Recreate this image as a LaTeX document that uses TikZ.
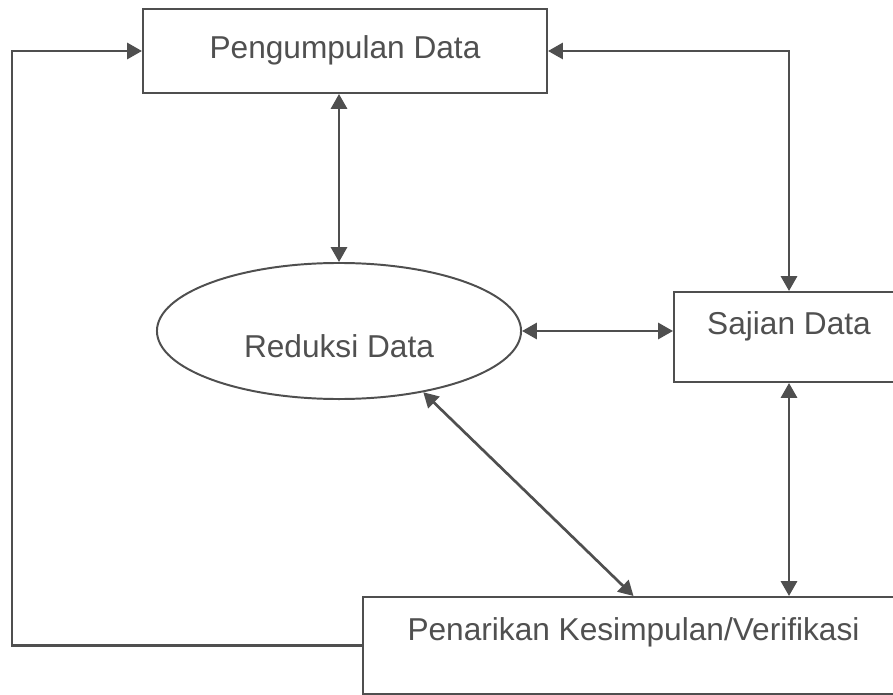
\documentclass[tikz,border=0pt]{standalone}
\usepackage{fontspec}
\setmainfont{Liberation Sans}
\usetikzlibrary{positioning, arrows.meta, shapes.geometric}
\definecolor{garis}{HTML}{4F4F4F}
\definecolor{tulisan}{HTML}{505050}

\begin{document}
\begin{tikzpicture}[x=0.025cm, y=-0.025cm,
  arr/.style={{Triangle[length=3.7mm, width=4mm]}-{Triangle[length=3.7mm, width=4mm]},
              draw=garis, line width=1.9pt},
  arrsatu/.style={-{Triangle[length=3.7mm, width=4mm]}, draw=garis, line width=1.9pt},
  kotak/.style={rectangle, draw=garis, line width=1.4pt, fill=white,
                text=tulisan, font=\fontsize{22.5}{27}\selectfont,
                inner sep=0.2cm, text height=0.58cm},
  elips/.style={ellipse, draw=garis, line width=1.4pt, fill=white,
                text=tulisan, font=\fontsize{22.5}{27}\selectfont,
                inner sep=0.1cm, minimum width=9.1cm, minimum height=3.4cm}
]
\useasboundingbox (0,0) rectangle (893,695);
\clip (0,0) rectangle (893,695);
\fill[white] (0,0) rectangle (893,695);

\node[kotak, minimum width=10.1cm, minimum height=2.1cm, text depth=0.2cm]
  (kumpul) at (345,51) {Pengumpulan Data};
\node[elips, text height=1.33cm, text depth=0pt]
  (reduksi) at (339,331) {Reduksi Data};
\node[kotak, minimum width=5.75cm, minimum height=2.25cm, text depth=0.7cm]
  (sajian) at (789,337) {Sajian Data};
\node[kotak, minimum width=13.525cm, minimum height=2.425cm, text depth=0.85cm]
  (tarik) at (633.5,645.5) {Penarikan Kesimpulan/Verifikasi};
\coordinate (kiri) at (12,0);

% panah antar komponen
\draw[arr] (kumpul.south -| reduksi.north) -- (reduksi.north);
\draw[arr] (kumpul.east) -| (sajian.north);
\draw[arr] (reduksi.east) -- (reduksi.east -| sajian.west);
\draw[arr] (sajian.south) -- (tarik.north -| sajian.south);
\draw[arr] (reduksi.-36) -- (tarik.north);
% umpan balik ke pengumpulan data
\draw[arrsatu] (tarik.west) -- (tarik.west -| kiri) -- (kumpul.west -| kiri) -- (kumpul.west);
\end{tikzpicture}
\end{document}
